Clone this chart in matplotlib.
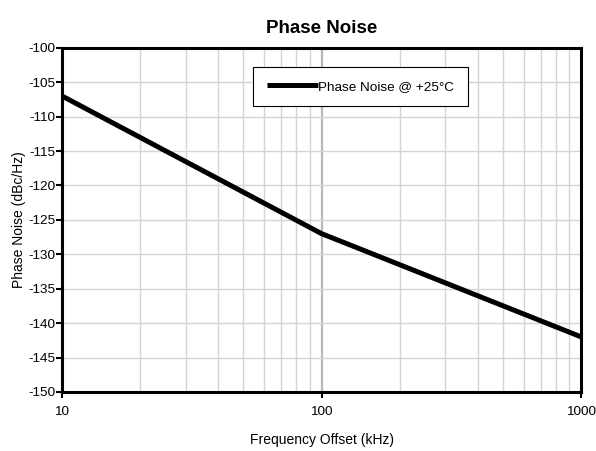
import matplotlib.pyplot as plt
from matplotlib.ticker import LogLocator, FixedLocator, NullFormatter

plt.rcParams['font.family'] = ['Liberation Sans', 'DejaVu Sans']
plt.rcParams['axes.unicode_minus'] = False

# Phase noise data
freq_khz = [10, 100, 1000]
phase_noise = [-107, -127, -142]
y_ticks = list(range(-150, -99, 5))
series_label = 'Phase Noise @ +25°C'

fig = plt.figure(figsize=(5.96, 4.51), dpi=100)
ax = fig.add_axes([0.104, 0.131, 0.871, 0.763])

ax.plot(freq_khz, phase_noise, color='black', linewidth=3.6,
        solid_capstyle='butt', label=series_label, zorder=5)

ax.set_xscale('log')
ax.set_xlim(10, 1000)
ax.set_ylim(-150, -100)
ax.set_yticks(y_ticks)
ax.xaxis.set_major_locator(FixedLocator([10, 100, 1000]))
ax.xaxis.set_minor_locator(LogLocator(base=10, subs=range(2, 10)))
ax.xaxis.set_minor_formatter(NullFormatter())
ax.set_xticklabels(['10', '100', '1000'])

# grid
ax.grid(which='minor', axis='x', color='#d4d4d4', linewidth=1.0)
ax.grid(which='major', axis='y', color='#d4d4d4', linewidth=1.0)
ax.axvline(100, color='#b8b8b8', linewidth=1.6, zorder=1)

for s in ax.spines.values():
    s.set_linewidth(2.2)
    s.set_color('black')

ax.tick_params(axis='both', which='major', direction='out', length=4, width=1.5,
               labelsize=9.7, colors='black', pad=0.5)
ax.tick_params(axis='x', which='major', pad=6)
ax.tick_params(axis='x', which='minor', length=0)

ax.set_xlabel('Frequency Offset (kHz)', fontsize=10, labelpad=11)
ax.set_ylabel('Phase Noise (dBc/Hz)', fontsize=10, labelpad=2)
ax.set_title('Phase Noise', fontsize=13.5, fontweight='bold', pad=11)

leg = ax.legend(loc='center', bbox_to_anchor=(0.575, 0.887), fontsize=9.7,
                frameon=True, fancybox=False, handlelength=3.8, handletextpad=0.05,
                borderpad=1.0, borderaxespad=0)
leg.get_frame().set_edgecolor('black')
leg.get_frame().set_linewidth(0.8)
leg.get_frame().set_alpha(1)

fig.savefig('out.png', dpi=100)
